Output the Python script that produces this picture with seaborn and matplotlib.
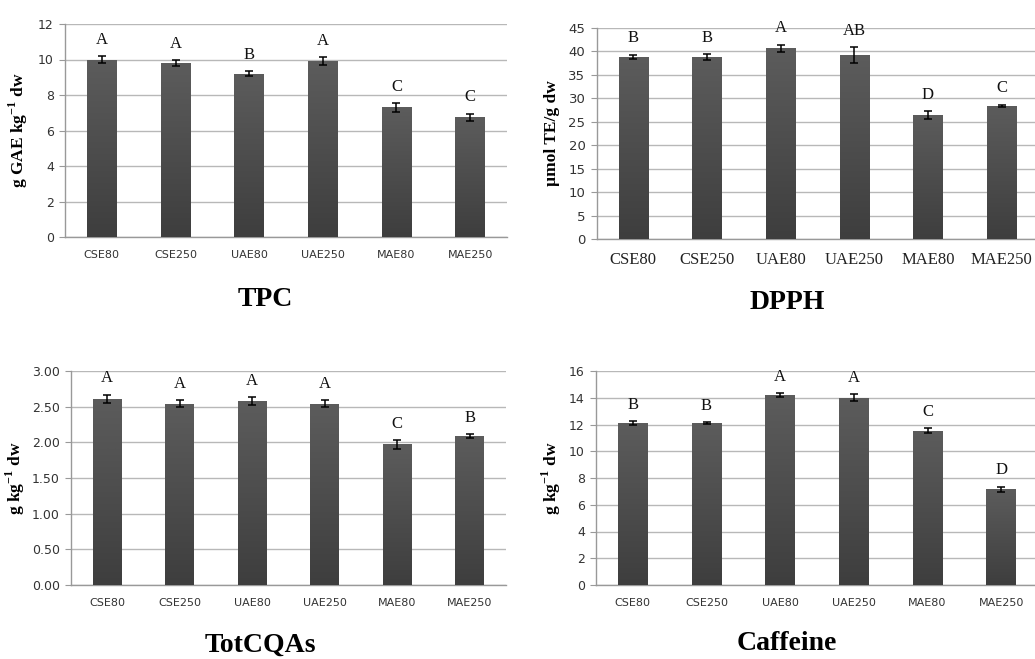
import numpy as np
import pandas as pd
import matplotlib
matplotlib.use('Agg')
import matplotlib.pyplot as plt
from matplotlib.colors import LinearSegmentedColormap
import seaborn as sns

# categorie (trattamenti di estrazione)
categories = ['CSE80', 'CSE250', 'UAE80', 'UAE250', 'MAE80', 'MAE250']

# TPC
tpc_values = [10.0, 9.8, 9.2, 9.9, 7.3, 6.75]
tpc_errors = [0.2, 0.17, 0.15, 0.22, 0.25, 0.2]
tpc_letters = ['A', 'A', 'B', 'A', 'C', 'C']

# DPPH
dpph_values = [38.8, 38.8, 40.6, 39.2, 26.4, 28.4]
dpph_errors = [0.5, 0.6, 0.8, 1.7, 0.8, 0.25]
dpph_letters = ['B', 'B', 'A', 'AB', 'D', 'C']

# TotCQAs
cqa_values = [2.61, 2.54, 2.58, 2.54, 1.97, 2.085]
cqa_errors = [0.06, 0.05, 0.05, 0.05, 0.06, 0.025]
cqa_letters = ['A', 'A', 'A', 'A', 'C', 'B']

# Caffeina
caf_values = [12.1, 12.1, 14.2, 14.0, 11.55, 7.15]
caf_errors = [0.15, 0.08, 0.12, 0.25, 0.2, 0.2]
caf_letters = ['B', 'B', 'A', 'A', 'C', 'D']

sns.set_style('white')
plt.rcParams['font.family'] = ['DejaVu Sans']
plt.rcParams['text.color'] = 'black'
plt.rcParams['axes.labelcolor'] = 'black'
plt.rcParams['mathtext.fontset'] = 'custom'
plt.rcParams['mathtext.rm'] = 'Liberation Serif'
plt.rcParams['mathtext.bf'] = 'Liberation Serif:bold'

serif = 'Liberation Serif'
grad_cmap = LinearSegmentedColormap.from_list('bar', ['#3e3e3e', '#5c5c5c'])


def draw_panel(ax, values, errors, letters, ymax, ystep, ylabel, title, title_xy,
               label_x, yfmt='{:.0f}', serif_xticks=False, yticksize=9):
    df = pd.DataFrame({'cat': categories, 'val': values})
    sns.barplot(data=df, x='cat', y='val', ax=ax, color='#4d4d4d', width=0.4,
                errorbar=None, zorder=2)
    ax.errorbar(np.arange(len(values)), values, yerr=errors, fmt='none',
                ecolor='black', elinewidth=1.1, capsize=3, capthick=1.1, zorder=4)

    # riempimento sfumato delle barre
    grad = np.linspace(0, 1, 100).reshape(-1, 1)
    for p in list(ax.patches):
        x0, y0, w, h = p.get_x(), p.get_y(), p.get_width(), p.get_height()
        im = ax.imshow(grad, extent=[x0, x0 + w, y0, y0 + h], origin='lower',
                       aspect='auto', cmap=grad_cmap, zorder=3)
        im.set_clip_path(p)
        p.set_facecolor('none')
        p.set_edgecolor('none')

    # lettere di significatività
    for i, (v, e, l) in enumerate(zip(values, errors, letters)):
        ax.annotate(l, (i, v + e), xytext=(0, 6), textcoords='offset points',
                    ha='center', va='bottom', fontsize=12, family=serif,
                    color='#111111')

    ax.set_xlim(-0.5, len(values) - 0.5)
    ax.set_ylim(0, ymax)
    yt = np.arange(0, ymax + ystep / 2, ystep)
    ax.set_yticks(yt)
    ax.set_yticklabels([yfmt.format(t) for t in yt], fontsize=yticksize, color='#333333')
    ax.set_xticks(np.arange(len(values)))
    if serif_xticks:
        ax.set_xticklabels(categories, fontsize=12, family=serif, color='#222222')
    else:
        ax.set_xticklabels(categories, fontsize=8, color='#333333')
    ax.set_xticks(np.arange(-0.5, len(values)), minor=True)
    ax.tick_params(axis='x', which='major', length=0, pad=9)
    ax.tick_params(axis='x', which='minor', length=5, color='#999999', direction='out')
    ax.tick_params(axis='y', length=4, color='#999999', direction='out', pad=4,
                   left=True)

    ax.yaxis.grid(True, color='#b8b8b8', lw=1)
    ax.xaxis.grid(False)
    ax.set_axisbelow(True)
    for s in ['top', 'right']:
        ax.spines[s].set_visible(False)
    for s in ['left', 'bottom']:
        ax.spines[s].set_color('#999999')
        ax.spines[s].set_linewidth(1)

    ax.set_xlabel('')
    ax.set_ylabel(ylabel, family=serif, fontweight='bold', fontsize=12.5)
    ax.yaxis.set_label_coords(label_x, 0.5)
    fig.text(title_xy[0], title_xy[1], title, family=serif, fontweight='bold',
             fontsize=20, ha='center', va='center', color='black')


W, H = 1035, 659
fig = plt.figure(figsize=(W / 100, H / 100), dpi=100)

ax1 = fig.add_axes([65 / W, 1 - 237 / H, 442 / W, 213 / H])
ax2 = fig.add_axes([596.5 / W, 1 - 239.3 / H, 442 / W, 211.6 / H])
ax3 = fig.add_axes([71 / W, 1 - 585 / H, 435 / W, 214 / H])
ax4 = fig.add_axes([596 / W, 1 - 585 / H, 442 / W, 214 / H])

draw_panel(ax1, tpc_values, tpc_errors, tpc_letters, 12, 2,
           r'g GAE kg$^{\mathbf{-1}}$ dw', 'TPC', (265 / W, 1 - 300 / H), -0.08)
draw_panel(ax2, dpph_values, dpph_errors, dpph_letters, 45, 5,
           'µmol TE/g dw', 'DPPH', (787 / W, 1 - 303 / H), -0.082,
           serif_xticks=True, yticksize=9.5)
draw_panel(ax3, cqa_values, cqa_errors, cqa_letters, 3.0, 0.5,
           r'g kg$^{\mathbf{-1}}$ dw', 'TotCQAs', (260 / W, 1 - 645 / H), -0.1,
           yfmt='{:.2f}')
draw_panel(ax4, caf_values, caf_errors, caf_letters, 16, 2,
           r'g kg$^{\mathbf{-1}}$ dw', 'Caffeine', (787 / W, 1 - 643 / H), -0.075)

fig.savefig('out.png', dpi=100)
